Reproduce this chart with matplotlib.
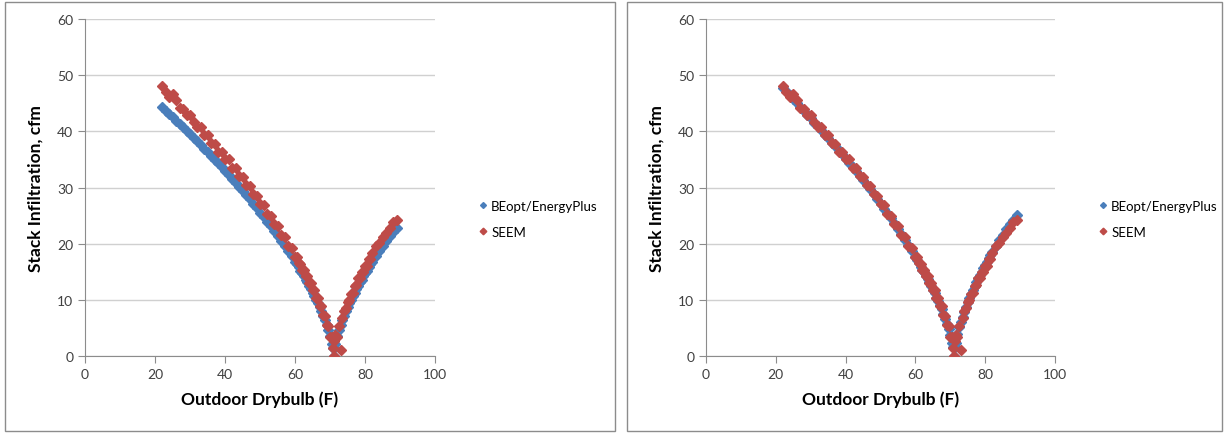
import matplotlib.pyplot as plt
from matplotlib.patches import Rectangle

# outdoor drybulb temperature (F)
temps = [22, 23, 24, 25, 26, 27, 28, 29, 30, 31,
         32, 33, 34, 35, 36, 37, 38, 39, 40, 41,
         42, 43, 44, 45, 46, 47, 48, 49, 50, 51,
         52, 53, 54, 55, 56, 57, 58, 59,
         60, 60.5, 61, 61.5, 62, 62.5, 63, 63.5, 64, 64.5, 65, 65.5,
         66, 66.5, 67, 67.5, 68, 68.5, 69, 69.5, 70, 70.5,
         70.75, 71, 71.25,
         71.5, 72, 72.5, 73, 73.5, 74, 74.5, 75, 75.5, 76, 76.5,
         77, 77.5, 78, 78.5, 79, 79.5, 80, 80.5, 81, 81.5,
         82, 83, 84, 85, 86, 87, 88, 89]

# stack infiltration (cfm), left chart: BEopt/EnergyPlus
beopt_left = [44.3, 43.7, 43.1, 42.5, 41.9, 41.3, 40.7, 40.1, 39.5, 38.8,
              38.2, 37.6, 36.9, 36.3, 35.6, 34.9, 34.3, 33.6, 32.9, 32.2,
              31.5, 30.8, 30.1, 29.3, 28.6, 27.9, 27.1, 26.3, 25.5, 24.7,
              23.9, 23.1, 22.3, 21.4, 20.5, 19.6, 18.7, 17.8,
              16.8, 16.3, 15.8, 15.2, 14.7, 14.2, 13.6, 13.1, 12.5, 11.9, 11.3, 10.7,
              10.0, 9.4, 8.7, 8.0, 7.2, 6.4, 5.5, 4.6, 3.5, 2.2,
              1.4, 0.0, 1.4,
              2.2, 3.5, 4.6, 5.5, 6.4, 7.2, 8.0, 8.7, 9.4, 10.0, 10.7,
              11.3, 11.9, 12.5, 13.1, 13.6, 14.2, 14.7, 15.2, 15.8, 16.3,
              16.8, 17.8, 18.7, 19.6, 20.5, 21.3, 22.1, 22.8]

# right chart: BEopt/EnergyPlus after the change
beopt_right = [47.8, 47.1, 46.4, 45.7, 45.0, 44.3, 43.6, 42.9, 42.3, 41.5,
               40.9, 40.2, 39.4, 38.8, 38.0, 37.3, 36.6, 35.9, 35.1, 34.4,
               33.6, 32.9, 32.1, 31.3, 30.5, 29.7, 28.9, 28.0, 27.1, 26.2,
               25.4, 24.5, 23.6, 22.6, 21.7, 20.7, 19.7, 18.7,
               17.6, 17.1, 16.6, 15.9, 15.4, 14.9, 14.3, 13.7, 13.1, 12.5, 11.8, 11.2,
               10.4, 9.8, 9.0, 8.3, 7.5, 6.6, 5.7, 4.8, 3.7, 2.4,
               1.6, 0.0, 1.6,
               2.4, 3.9, 5.1, 6.1, 7.0, 7.9, 8.8, 9.6, 10.3, 11.0, 11.8,
               12.4, 13.1, 13.8, 14.4, 15.0, 15.6, 16.2, 16.7, 17.4, 17.9,
               18.5, 19.6, 20.6, 21.6, 22.6, 23.5, 24.3, 25.1]

# SEEM (same in both charts)
seem = [48.0, 47.0, 46.2, 46.7, 45.5, 44.2, 44.0, 42.9, 42.9, 41.6,
        40.7, 40.7, 39.4, 39.4, 37.9, 37.8, 36.4, 36.4, 35.1, 35.0,
        33.5, 33.4, 32.1, 31.9, 30.4, 30.2, 28.8, 28.5, 27.1, 26.8,
        25.3, 25.0, 23.5, 23.2, 21.6, 21.2, 19.6, 19.2,
        17.6, 17.6, 16.5, 16.4, 15.3, 15.4, 14.2, 14.2, 13.0, 13.0, 11.7, 11.7,
        10.3, 10.4, 8.9, 8.9, 7.3, 7.2, 5.5, 5.4, 3.3, 3.3,
        1.4, 0.0, 2.6,
        3.8, 3.3, 5.4, 1.0, 6.8, 8.1, 8.5, 9.7, 9.9, 11.1, 11.3,
        12.5, 12.6, 13.8, 13.8, 15.0, 15.0, 16.1, 16.1, 17.3, 17.3,
        18.4, 19.5, 20.2, 21.1, 21.9, 22.8, 23.8, 24.2]

series_names = ['BEopt/EnergyPlus', 'SEEM']
blue = '#4a7ebb'
red = '#be4b48'

plt.rcParams['font.family'] = ['Lato', 'DejaVu Sans']

fig = plt.figure(figsize=(12.25, 4.35), dpi=100)

# the two chart boxes
for x0, w in [(5, 610), (627, 595)]:
    fig.patches.append(Rectangle((x0 / 1225, 3 / 435), w / 1225, 429 / 435,
                                 transform=fig.transFigure, fill=False,
                                 edgecolor='#8c8c8c', linewidth=1))


def draw_panel(ax, beopt, legend_x):
    ax.plot(temps, beopt, linestyle='none', marker='D', ms=5.0,
            color=blue, mec=blue, label=series_names[0], zorder=3)
    ax.plot(temps, seem, linestyle='none', marker='D', ms=5.6,
            color=red, mec=red, label=series_names[1], zorder=4)
    ax.set_xlim(0, 100)
    ax.set_ylim(0, 60)
    ax.set_xticks(range(0, 101, 20))
    ax.set_yticks(range(0, 61, 10))
    ax.grid(axis='y', color='#d0d0d0', linewidth=1)
    ax.set_axisbelow(True)
    for s in ['top', 'right']:
        ax.spines[s].set_visible(False)
    for s in ['left', 'bottom']:
        ax.spines[s].set_color('#8c8c8c')
    ax.tick_params(direction='out', length=5, color='#8c8c8c',
                   labelsize=10, labelcolor='#404040')
    ax.set_xlabel('Outdoor Drybulb (F)', fontsize=12.5, fontweight='bold', labelpad=8)
    ax.set_ylabel('Stack Infiltration, cfm', fontsize=12.5, fontweight='bold', labelpad=10)
    ax.legend(loc='center left', bbox_to_anchor=(legend_x, 0.495),
              bbox_transform=fig.transFigure, frameon=False, fontsize=9.5,
              handlelength=0.7, handletextpad=0.25, borderpad=0,
              labelspacing=1.05, markerscale=0.6)


ax1 = fig.add_axes([85 / 1225, 78 / 435, 350 / 1225, 337 / 435])
draw_panel(ax1, beopt_left, 472 / 1225)

ax2 = fig.add_axes([706 / 1225, 78 / 435, 349 / 1225, 337 / 435])
draw_panel(ax2, beopt_right, 1092 / 1225)

plt.savefig('out.png', dpi=100)
